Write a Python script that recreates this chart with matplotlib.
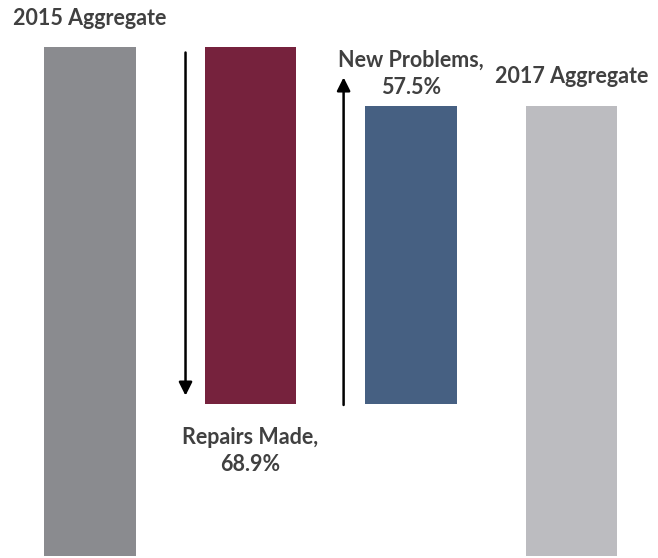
import matplotlib
matplotlib.use("Agg")
import matplotlib.pyplot as plt

# waterfall: 2015 aggregate -> repairs -> new problems -> 2017 aggregate
categories = ["2015 Aggregate", "Repairs Made", "New Problems", "2017 Aggregate"]
agg_2015 = 98.3
repairs = 68.9
new_problems = 57.5
agg_2017 = 86.9

labels = ["2015 Aggregate", "Repairs Made,\n68.9%", "New Problems,\n57.5%", "2017 Aggregate"]
colors = ["#8a8b8f", "#76223d", "#466082", "#bcbcc0"]

plt.rcParams["font.family"] = ["Lato", "DejaVu Sans"]

fig = plt.figure(figsize=(6.58, 5.58), dpi=100)
ax = fig.add_axes([0, 0, 1, 1])

bottoms = [0, agg_2015 - repairs, agg_2015 - repairs, 0]
heights = [agg_2015, repairs, new_problems, agg_2017]
x = list(range(len(categories)))
w = 0.57
ax.bar(x, heights, bottom=bottoms, width=w, color=colors)

txt = dict(ha="center", fontsize=15.5, fontweight="bold", color="#404040", linespacing=1.38)
ax.text(0, agg_2015 + 5.4, labels[0], va="center", **txt)
ax.text(1, agg_2015 - repairs - 4.5, labels[1], va="top", **txt)
ax.text(2, agg_2017 + 1.4, labels[2], va="bottom", **txt)
ax.text(3, agg_2017 + 5.6, labels[3], va="center", **txt)

# arrows
ax.annotate("", xy=(1 - w / 2 - 0.12, agg_2015 - repairs + 1.0),
            xytext=(1 - w / 2 - 0.12, agg_2015 - 0.6),
            arrowprops=dict(arrowstyle="-|>", color="black", lw=1.8, mutation_scale=20))
ax.annotate("", xy=(2 - w / 2 - 0.135, agg_2017 + 6.0),
            xytext=(2 - w / 2 - 0.135, agg_2015 - repairs - 0.8),
            arrowprops=dict(arrowstyle="-|>", color="black", lw=1.8, mutation_scale=20))

ax.set_xlim(-0.561, 3.539)
ax.set_ylim(-0.4, 107.3)
ax.axis("off")

fig.savefig("out.png", dpi=100, facecolor="white")
